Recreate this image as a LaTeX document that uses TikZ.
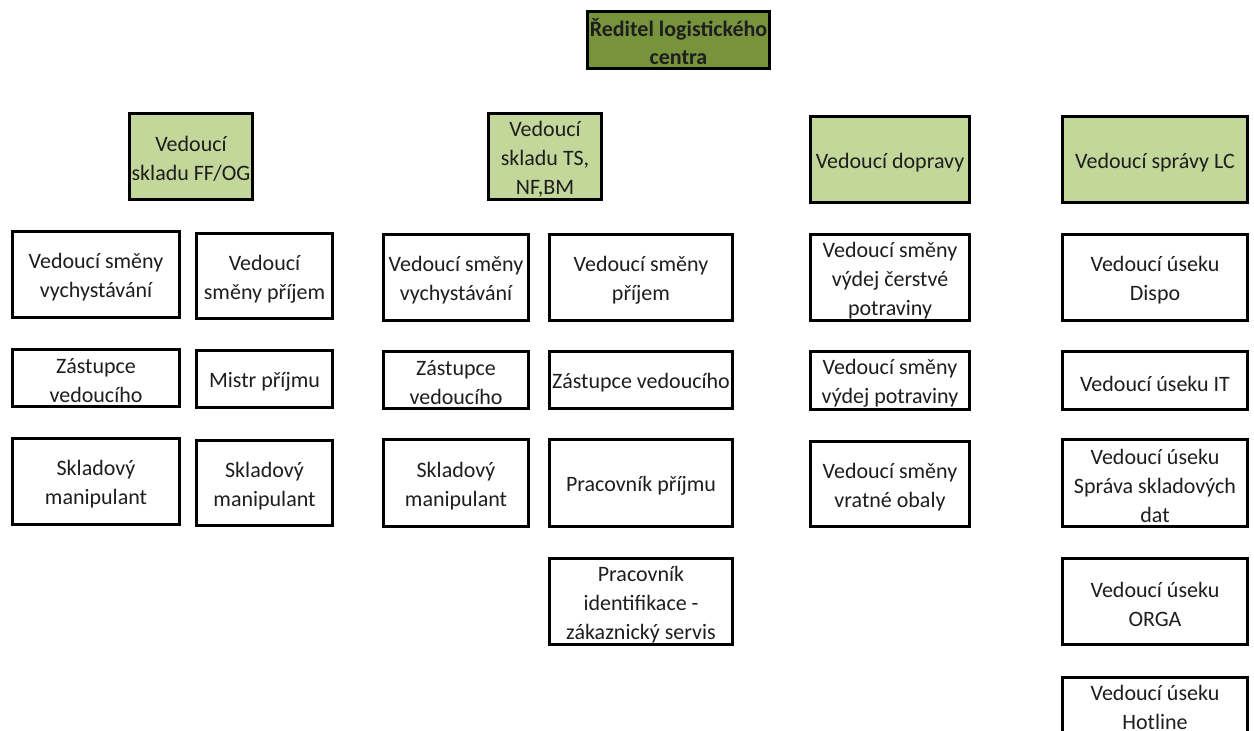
\documentclass[tikz,border=0pt]{standalone}
\usepackage{fontspec}
\setmainfont{Carlito}
\definecolor{darkolive}{RGB}{119,147,60}
\definecolor{lightolive}{RGB}{196,215,155}
\definecolor{textdark}{RGB}{30,30,30}
\tikzset{
  orgbox/.style={draw=black, line width=1.3pt, fill=white, inner sep=0pt},
  headbox/.style={orgbox, fill=lightolive},
  topbox/.style={orgbox, fill=darkolive, line width=1.5pt},
  orgtext/.style={inner sep=0pt, align=center, font=\fontsize{11}{14.5}\selectfont, text=textdark},
  toptext/.style={orgtext, font=\fontsize{11}{14}\selectfont\bfseries}
}
% #1 box style, #2 name, #3 x1, #4 y1, #5 x2, #6 y2, #7 text, #8 text style, #9 text shift
\newcommand\obox[9]{%
  \node[#1, minimum width={(#5-#3)*0.5pt-1.3pt}, minimum height={(#6-#4)*0.5pt-1.3pt}]
    (#2) at ({(#3+#5)/2},{(#4+#6)/2}) {};
  \node[#8, yshift=#9] (#2t) at (#2.center) {#7};}
\begin{document}
\begin{tikzpicture}[x=0.5pt,y=-0.5pt]
\useasboundingbox (0,0) rectangle (1254,731);
\fill[white] (0,0) rectangle (1254,731);
\obox{topbox}{R}{586}{10}{771}{70}{Ředitel logistického\\centra}{toptext}{-0.8pt}
\obox{headbox}{H1}{128}{112}{254}{201}{Vedoucí\\skladu FF/OG}{orgtext}{-1.2pt}
\obox{headbox}{H2}{487}{112}{603}{201}{Vedoucí\\skladu TS,\\NF,BM}{orgtext}{-1.2pt}
\obox{headbox}{H3}{809}{115}{971}{204}{Vedoucí dopravy}{orgtext}{-1.5pt}
\obox{headbox}{H4}{1061}{115}{1249}{204}{Vedoucí správy LC}{orgtext}{-1.5pt}
% column 1
\obox{orgbox}{C1a}{11}{230}{181}{319}{Vedoucí směny\\vychystávání}{orgtext}{-1.5pt}
\obox{orgbox}{C1b}{195}{232}{334}{320}{Vedoucí\\směny příjem}{orgtext}{-1.5pt}
\obox{orgbox}{C1c}{11}{348}{181}{408}{Zástupce\\vedoucího}{orgtext}{-1.5pt}
\obox{orgbox}{C1d}{195}{349}{334}{409}{Mistr příjmu}{orgtext}{-1.5pt}
\obox{orgbox}{C1e}{11}{437}{181}{526}{Skladový\\manipulant}{orgtext}{-1.5pt}
\obox{orgbox}{C1f}{195}{439}{334}{527}{Skladový\\manipulant}{orgtext}{-1.5pt}
% column 2
\obox{orgbox}{C2a}{382}{233}{530}{322}{Vedoucí směny\\vychystávání}{orgtext}{-1.5pt}
\obox{orgbox}{C2b}{548}{233}{734}{322}{Vedoucí směny\\příjem}{orgtext}{-1.5pt}
\obox{orgbox}{C2c}{382}{350}{530}{410}{Zástupce\\vedoucího}{orgtext}{-1.5pt}
\obox{orgbox}{C2d}{548}{350}{734}{410}{Zástupce vedoucího}{orgtext}{-1.5pt}
\obox{orgbox}{C2e}{382}{438}{530}{528}{Skladový\\manipulant}{orgtext}{-1.5pt}
\obox{orgbox}{C2f}{548}{438}{734}{528}{Pracovník příjmu}{orgtext}{-1.5pt}
\obox{orgbox}{C2g}{548}{557}{734}{646}{Pracovník\\identifikace -\\zákaznický servis}{orgtext}{-1.5pt}
% column 3
\obox{orgbox}{C3a}{809}{233}{971}{322}{Vedoucí směny\\výdej čerstvé\\potraviny}{orgtext}{-1.5pt}
\obox{orgbox}{C3b}{809}{350}{971}{411}{Vedoucí směny\\výdej potraviny}{orgtext}{-1.5pt}
\obox{orgbox}{C3c}{809}{440}{971}{528}{Vedoucí směny\\vratné obaly}{orgtext}{-1.5pt}
% column 4
\obox{orgbox}{C4a}{1061}{233}{1249}{322}{Vedoucí úseku\\Dispo}{orgtext}{-1.5pt}
\obox{orgbox}{C4b}{1061}{350}{1249}{411}{Vedoucí úseku IT}{orgtext}{-1.5pt}
\obox{orgbox}{C4c}{1061}{438}{1249}{528}{Vedoucí úseku\\Správa skladových\\dat}{orgtext}{-1.5pt}
\obox{orgbox}{C4d}{1061}{557}{1249}{646}{Vedoucí úseku\\ORGA}{orgtext}{-1.5pt}
\obox{orgbox}{C4e}{1061}{676}{1249}{738}{Vedoucí úseku\\Hotline}{orgtext}{0pt}
\end{tikzpicture}
\end{document}
